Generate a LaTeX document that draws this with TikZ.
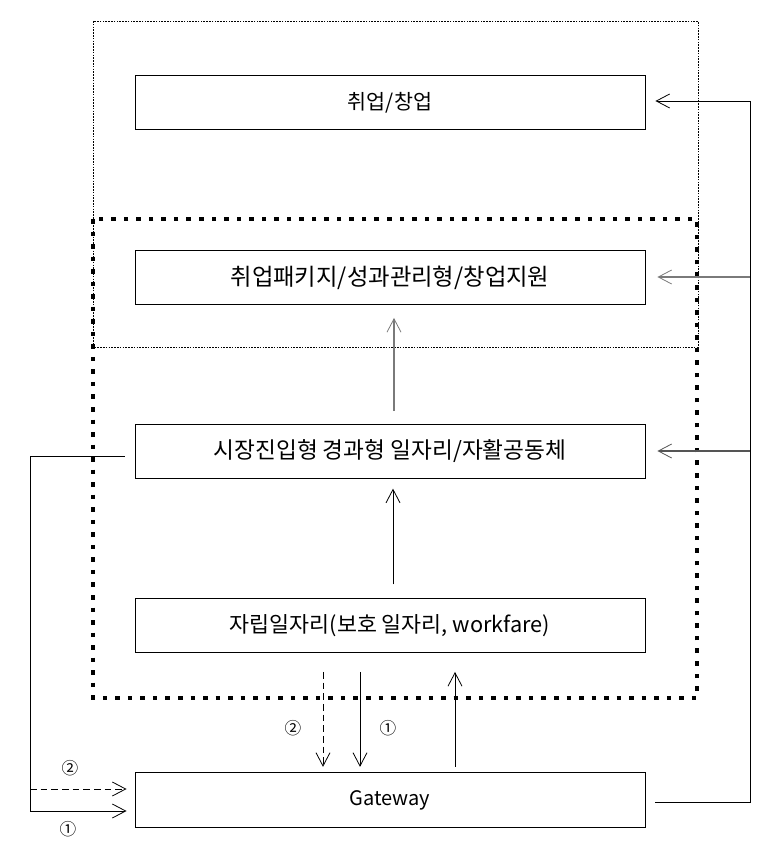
\documentclass[tikz,border=0pt]{standalone}
\usepackage{fontspec}
\setmainfont{Noto Sans CJK KR}
\usetikzlibrary{arrows.meta}
\definecolor{arrgray}{HTML}{7A7A7A}
\definecolor{arrdark}{HTML}{555555}
\tikzset{
  box/.style={draw=black, line width=0.7pt, minimum width=382.5pt, minimum height=41pt, inner sep=0pt},
  conn/.style={line width=0.7pt, -{Straight Barb[length=10pt, width=10.5pt, line width=0.6pt]}},
  dashconn/.style={conn, dash pattern=on 5pt off 3pt},
  thickdot/.style={line width=3.4pt, dash pattern=on 3.4pt off 6pt},
  thindot/.style={line width=0.6pt, dash pattern=on 1.2pt off 0.9pt},
  num/.style={font=\fontsize{12.5}{14}\selectfont, inner sep=0pt}
}
\begin{document}
\begin{tikzpicture}[x=0.75pt, y=-0.75pt]
\useasboundingbox (0,0) rectangle (769,852);
% outer frames
\draw[thindot] (93,21) rectangle (698,347);
\draw[thickdot] (93,219) rectangle (697,698);
% boxes
\node[box, font=\fontsize{15.5}{18}\selectfont] (b1) at (390,102.5) {취업/창업};
\node[box, font=\fontsize{17.5}{20}\selectfont] (b2) at (390,277.5) {취업패키지/성과관리형/창업지원};
\node[box, font=\fontsize{17}{20}\selectfont] (b3) at (390,451.5) {시장진입형 경과형 일자리/자활공동체};
\node[box, font=\fontsize{16.3}{19}\selectfont] (b4) at (390,625.5) {자립일자리(보호 일자리, workfare)};
\node[box, font=\fontsize{15}{18}\selectfont] (g) at (390,800) {Gateway};
% right bus
\coordinate (rb) at (750,802);
\coordinate (rt) at (750,101);
\coordinate (r2) at (750,277);
\coordinate (r3) at (750,451);
\draw[conn, shorten <=7.5pt, shorten >=7.5pt] ([yshift=-1.5pt]g.east) -- (rb) -- (rt) -- (rt -| b1.east);
\draw[conn, arrgray, line width=1.3pt, shorten >=9pt] (r2) -- (r2 -| b2.east);
\draw[conn, arrdark, line width=1.1pt, shorten >=9pt] (r3) -- (r3 -| b3.east);
% vertical arrows between boxes
\coordinate (v3) at (394,451);
\draw[conn, arrgray, line width=1.1pt, shorten <=9.5pt, shorten >=9.5pt] (v3 |- b3.north) -- (v3 |- b2.south);
\coordinate (v4) at (393,625);
\draw[conn, shorten <=10pt, shorten >=7pt] (v4 |- b4.north) -- (v4 |- b3.south);
% bottom arrows
\coordinate (d2) at (323,700);
\coordinate (d1) at (360,700);
\coordinate (u1) at (455,700);
\draw[dashconn, line width=0.6pt, shorten <=14pt, shorten >=4pt] (d2 |- b4.south) -- (d2 |- g.north);
\draw[conn, shorten <=14pt, shorten >=4pt] (d1 |- b4.south) -- (d1 |- g.north);
\draw[conn, shorten <=4pt, shorten >=14pt] (u1 |- g.north) -- (u1 |- b4.south);
\node[num] (n2b) at (293,728) {②};
\node[num] (n1b) at (388,728) {①};
% left arrows
\coordinate (l3) at (30,456);
\coordinate (l1) at (30,811);
\coordinate (l2) at (30,789);
\draw[conn, shorten <=7.5pt, shorten >=6pt] (l3 -| b3.west) -- (l3) -- (l1) -- (l1 -| g.west);
\draw[dashconn, line width=0.6pt, shorten >=6pt] (l2) -- (l2 -| g.west);
\node[num] (n2l) at (70,768) {②};
\node[num] (n1l) at (68,829) {①};
\end{tikzpicture}
\end{document}
